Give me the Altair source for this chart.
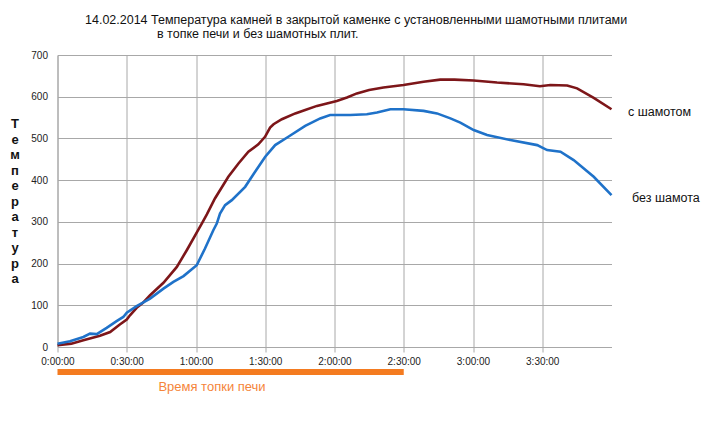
import altair as alt
import pandas as pd

# --- data (minutes since start, temperature) ---
time_with = [0, 6, 11.2, 18.4, 22.8, 27, 30, 31.4, 34.3, 37, 40.1, 45.9, 51.7, 56, 60.3, 62.5,
             64.7, 68.2, 74, 78.4, 82.7, 87, 89.9, 92.1, 93.6, 97.2, 103, 107.3, 112.4, 121,
             125.4, 129.7, 135, 141.2, 149.9, 158.6, 165.8, 172, 180.3, 190.4, 201.9, 209,
             213.5, 220.8, 225.1, 232.3, 240]
temp_with = [4, 8, 16, 27, 36, 54, 66, 76, 94, 106, 124, 154, 192, 232, 274, 296,
             318, 356, 408, 440, 468, 486, 504, 526, 534, 546, 560, 568, 578, 590,
             598, 608, 616, 622, 628, 636, 641, 641, 639, 634, 630, 625,
             628, 627, 620, 597, 570]

time_without = [0, 5.4, 11.2, 14.1, 17, 21.3, 25.6, 28.5, 30, 34.3, 40.1, 45.9, 50.2, 54.6,
                60.3, 63.9, 67.5, 69, 70.4, 72.6, 75.5, 81.3, 85.6, 90, 94.3, 100, 107.3,
                113.8, 118.1, 126.8, 134, 138.4, 144.2, 149.9, 158.6, 164.4, 170.2, 174.5,
                180.3, 186.1, 196.2, 207.8, 212.1, 217.9, 223.6, 232.3, 240]
temp_without = [8, 14, 24, 32, 31, 46, 62, 72, 82, 98, 116, 140, 156, 170,
                196, 236, 280, 296, 320, 340, 352, 384, 420, 456, 484, 504, 530,
                548, 556, 556, 558, 562, 570, 570, 566, 560, 548, 538,
                520, 508, 496, 484, 472, 468, 448, 408, 364]

series_names = ["с шамотом", "без шамота"]
series_colors = ["#7d1619", "#1f72c9"]
x_tick_values = [0, 30, 60, 90, 120, 150, 180, 210]
firing_span = [0, 150]

title_line1 = "14.02.2014  Температура камней в закрытой каменке с установленными  шамотными плитами"
title_line2 = "в топке печи и без шамотных плит."
y_title = "Температура"
firing_label = "Время топки печи"

df = pd.concat([
    pd.DataFrame({"t": time_with, "v": temp_with, "s": series_names[0]}),
    pd.DataFrame({"t": time_without, "v": temp_without, "s": series_names[1]}),
], ignore_index=True)

W, H = 554, 292
PL, PT = 57.5, 55
FONT = "Liberation Sans"
GRID = "#a8a8a8"

label_expr = ("floor(datum.value/60) + ':' + (datum.value % 60 < 10 ? '0' : '') + "
              "(datum.value % 60) + ':00'")

x_enc = alt.X("t:Q",
              scale=alt.Scale(domain=[0, 240], nice=False, zero=False),
              axis=alt.Axis(values=x_tick_values, labelExpr=label_expr, title=None,
                            grid=True, gridColor=GRID, domainColor=GRID, tickColor=GRID,
                            tickSize=5, labelFont=FONT, labelFontSize=10, labelColor="#222",
                            labelPadding=4, labelFlush=False))
y_enc = alt.Y("v:Q",
              scale=alt.Scale(domain=[0, 700], nice=False),
              axis=alt.Axis(values=[0, 100, 200, 300, 400, 500, 600, 700], title=None,
                            grid=True, gridColor=GRID, domainColor=GRID, ticks=False,
                            labelFont=FONT, labelFontSize=10, labelColor="#222",
                            labelPadding=10))

lines = alt.Chart(df).mark_line(strokeWidth=2.6).encode(
    x=x_enc, y=y_enc,
    color=alt.Color("s:N", scale=alt.Scale(domain=series_names, range=series_colors), legend=None),
)

one = alt.Data(values=[{}])

def txt(text, x, y, size=12.5, align="left", weight="normal", color="#111", baseline="middle", **kw):
    return alt.Chart(one).mark_text(text=text, align=align, baseline=baseline, font=FONT,
                                    fontSize=size, fontWeight=weight, color=color, **kw).encode(
        x=alt.value(x), y=alt.value(y))

t1 = txt(title_line1, 85 - PL, 20 - PT)
t2 = txt(title_line2, 157 - PL, 34 - PT)
yt = txt("\n".join(y_title), 15 - PL, 118 - PT, size=13, align="center", weight="bold",
         baseline="top", lineBreak="\n", lineHeight=15.5)
l1 = txt(series_names[0], 628 - PL, 112 - PT)
l2 = txt(series_names[1], 632 - PL, 198 - PT)

firing = alt.Chart(one).mark_rule(color="#f47b20", strokeWidth=6, strokeCap="butt").encode(
    x=alt.datum(firing_span[0]), x2=alt.datum(firing_span[1]), y=alt.value(372 - PT))
firing_txt = txt(firing_label, 212 - PL, 387 - PT, size=13, align="center", color="#f5853a")

chart = alt.layer(lines, firing, t1, t2, yt, l1, l2, firing_txt).properties(
    width=W, height=H,
    autosize=alt.AutoSizeParams(type="none"),
    padding={"left": PL, "top": PT, "right": 720 - PL - W, "bottom": 428 - PT - H},
    background="white",
).configure_view(stroke=None)

chart.save("out.html", embed_options={"renderer": "svg", "actions": False})
